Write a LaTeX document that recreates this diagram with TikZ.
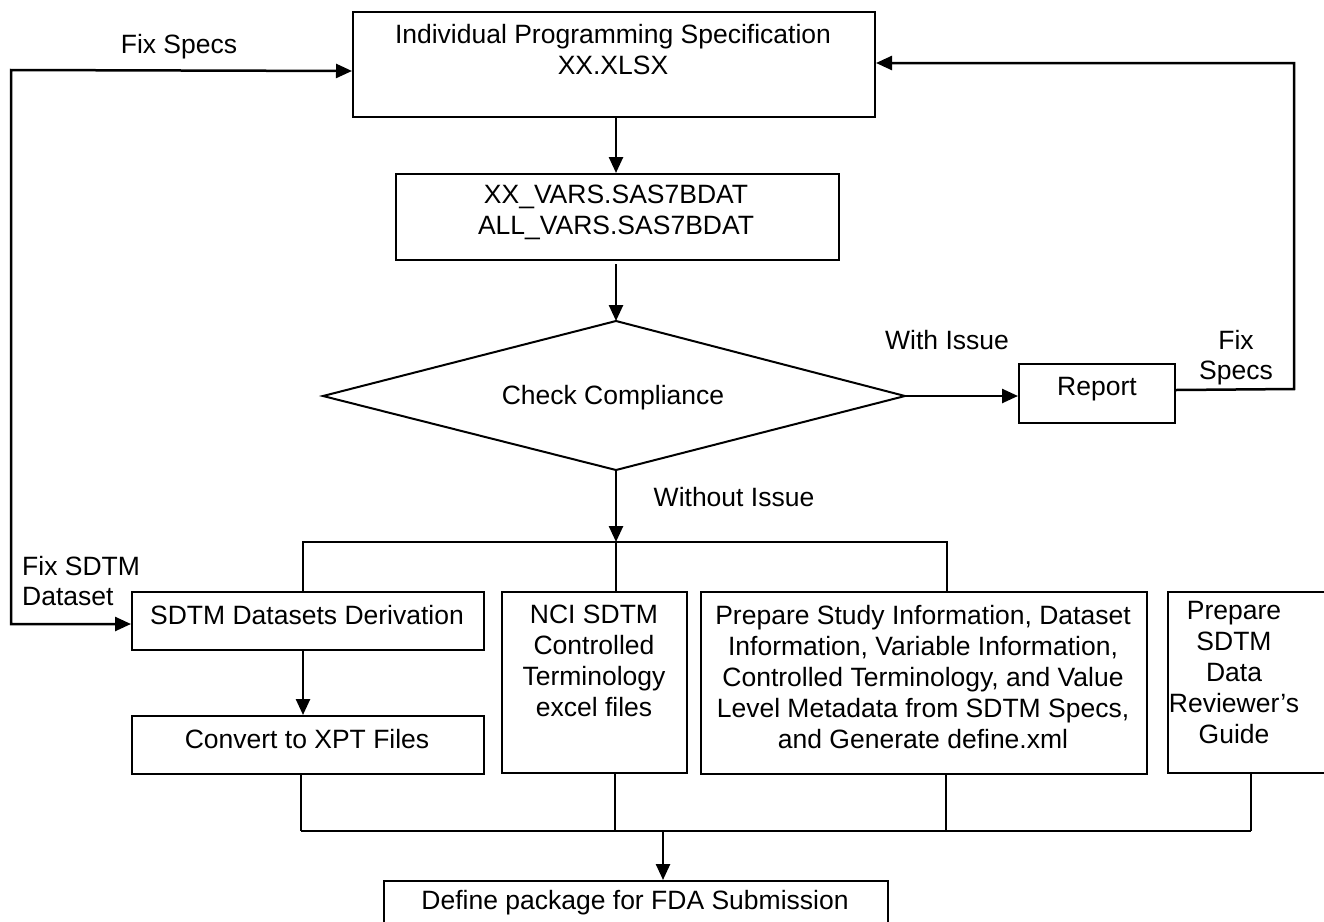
\documentclass[tikz,border=0pt]{standalone}
\usepackage{fontspec}
\setmainfont{Liberation Sans}
\usetikzlibrary{arrows.meta}
\begin{document}
\begin{tikzpicture}[x=1pt,y=-1pt,
  box/.style={draw=black, line width=2pt, rectangle, inner sep=0pt, anchor=north west},
  txt/.style={font=\fontsize{26.5}{31}\selectfont, align=center, inner sep=0pt},
  lbl/.style={font=\fontsize{26.5}{30}\selectfont, inner sep=0pt},
  conn/.style={line width=2.2pt},
  thin/.style={line width=1.6pt},
  arr/.style={line width=2.5pt, -{Triangle[length=16pt,width=14pt]}},
  darr/.style={line width=2.5pt, {Triangle[length=16pt,width=14pt]}-{Triangle[length=16pt,width=14pt]}}
]
\useasboundingbox (0,0) rectangle (1324,921);
\clip (0,0) rectangle (1324,921);
% boxes
\node[box, minimum width=522pt, minimum height=105pt] (spec) at (352,11) {};
\node[txt] at (613,50) {Individual Programming Specification\\XX.XLSX};
\node[box, minimum width=443pt, minimum height=86pt] (vars) at (395,173) {};
\node[txt] at (616,212) {XX\_VARS.SAS7BDAT\\ALL\_VARS.SAS7BDAT};
\coordinate (dtop) at (616,321);
\coordinate (dleft) at (323,396);
\coordinate (dright) at (905,396);
\coordinate (dbot) at (616,470);
\draw[line width=2pt] (dtop) -- (dright) -- (dbot) -- (dleft) -- cycle;
\node[txt] (dia) at (613,398) {Check Compliance};
\node[box, minimum width=156pt, minimum height=59pt] (report) at (1018,363) {};
\node[txt] at (1097,389) {Report};
\node[box, minimum width=352pt, minimum height=58pt] (deriv) at (131,591) {};
\node[txt] at (307,615) {SDTM Datasets Derivation};
\node[box, minimum width=352pt, minimum height=58pt] (conv) at (131,715) {};
\node[txt] at (307,739) {Convert to XPT Files};
\node[box, minimum width=185pt, minimum height=181pt] (nci) at (501,591) {};
\node[txt] at (594,661) {NCI SDTM\\Controlled\\Terminology\\excel files};
\node[box, minimum width=446pt, minimum height=182pt] (prep) at (700,591) {};
\node[txt] at (923,677) {Prepare Study Information, Dataset\\Information, Variable Information,\\Controlled Terminology, and Value\\Level Metadata from SDTM Specs,\\and Generate define.xml};
\node[box, minimum width=170pt, minimum height=181pt] (rev) at (1167,591) {};
\node[txt] at (1234,673) {Prepare\\SDTM\\Data\\Reviewer’s\\Guide};
\node[box, minimum width=504pt, minimum height=60pt] (def) at (383,880) {};
\node[txt] at (635,903) {Define package for FDA Submission};
% labels
\node[lbl] at (179,47) {Fix Specs};
\node[lbl] at (947,340) {With Issue};
\node[lbl, align=center] at (1236,358) {Fix\\Specs};
\node[lbl] at (734,497) {Without Issue};
\node[lbl, align=left, anchor=west] at (22,581) {Fix SDTM\\Dataset};
% coordinates
\coordinate (ltop) at (11,70);
\coordinate (lbot) at (11,624);
\coordinate (rtop) at (1294,63);
\coordinate (rbot) at (1294,389);
\coordinate (br) at (616,542);
\coordinate (brl) at (303,542);
\coordinate (brr) at (947,542);
\coordinate (cl) at (301,831);
\coordinate (cr) at (1251,831);
\coordinate (cm) at (663,831);
% connectors
\draw[arr] (spec.south -| dtop) -- (vars.north -| dtop);
\draw[arr] ([yshift=-3pt]vars.south -| dtop) -- (dtop);
\draw[arr] (dright) -- (dright -| report.west);
\draw[arr] ([yshift=3.5pt]report.east) -- (rbot) -- (rtop) -- (spec.east |- rtop);
\draw[darr] ([yshift=-6.5pt]spec.west) -- (ltop) -- (lbot) -- (lbot -| deriv.west);
\draw[arr] (dbot) -- (br);
\draw[conn] (deriv.north -| brl) -- (brl) -- (brr) -- (prep.north -| brr);
\draw[thin] (br) -- (nci.north -| br);
\draw[arr] (deriv.south -| brl) -- (conv.north -| brl);
\draw[thin] (conv.south -| cl) -- (cl);
\draw[conn] (cl) -- (cr);
\draw[thin] (cr) -- (rev.south -| cr);
\draw[thin] (nci.south -| 615,0) -- (615,831);
\draw[thin] (prep.south -| 946,0) -- (946,831);
\draw[arr] (cm) -- (def.north -| cm);
\end{tikzpicture}
\end{document}
